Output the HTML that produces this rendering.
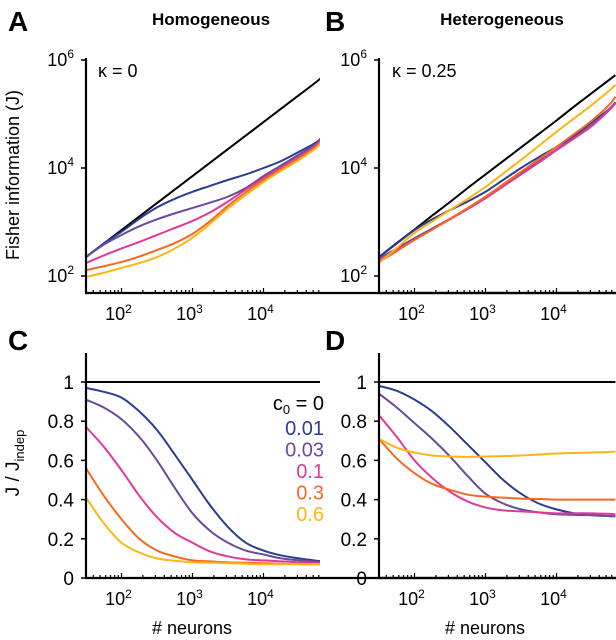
<!DOCTYPE html>
<html><head><meta charset="utf-8"><style>
html,body{margin:0;padding:0;background:#fff}
svg{display:block;font-family:"Liberation Sans",Arial,sans-serif}
</style></head><body>
<svg id="fig" width="616" height="640" viewBox="0 0 616 640">
<defs><clipPath id="clipA"><rect x="86" y="40" width="234" height="260"/></clipPath>
<clipPath id="clipB"><rect x="379" y="40" width="237" height="260"/></clipPath>
<clipPath id="clipC"><rect x="86" y="340" width="234" height="240"/></clipPath>
<clipPath id="clipD"><rect x="379" y="340" width="237" height="240"/></clipPath></defs>
<g id="root"></g>
</svg>
<script>
// data (log10 N on x)
const logN = [1.5, 1.75, 2, 2.25, 2.5, 2.75, 3, 3.25, 3.5, 3.75, 4, 4.25, 4.5, 4.75, 4.83];
const seriesNames = ['c0=0','0.01','0.03','0.1','0.3','0.6'];
const colors = ['#000000','#2b3d91','#6a4a9a','#e0399a','#f26a22','#fbb516'];
// Panel A: log10 J, homogeneous
const A_black = [2.35,2.6,2.85,3.1,3.35,3.6,3.85,4.1,4.35,4.6,4.85,5.1,5.35,5.6,5.69];
const A_blue = [2.35,2.6,2.82,3.06,3.27,3.43,3.56,3.67,3.78,3.88,4.0,4.13,4.3,4.48,4.59];
const A_purple = [2.35,2.58,2.76,2.92,3.05,3.16,3.26,3.36,3.47,3.63,3.85,4.05,4.25,4.46,4.58];
const A_pink = [2.24,2.38,2.51,2.63,2.76,2.89,3.02,3.18,3.38,3.6,3.81,4.01,4.21,4.43,4.56];
const A_orange = [2.11,2.18,2.26,2.36,2.48,2.61,2.78,3.02,3.3,3.55,3.78,3.98,4.18,4.4,4.55];
const A_yellow = [1.98,2.06,2.15,2.24,2.35,2.51,2.71,2.97,3.25,3.5,3.74,3.95,4.15,4.38,4.52];
// Panel B: log10 J, heterogeneous
const B_black = [2.35,2.61,2.86,3.12,3.37,3.63,3.88,4.13,4.38,4.63,4.88,5.14,5.39,5.64,5.72];
const B_blue = [2.35,2.6,2.85,3.05,3.22,3.38,3.56,3.78,4.0,4.2,4.39,4.6,4.85,5.1,5.22];
const B_purple = [2.32,2.51,2.7,2.88,3.06,3.25,3.45,3.67,3.9,4.12,4.34,4.57,4.8,5.1,5.21];
const B_pink = [2.3,2.48,2.67,2.86,3.05,3.24,3.44,3.66,3.88,4.1,4.33,4.55,4.78,5.08,5.2];
const B_orange = [2.26,2.46,2.67,2.86,3.06,3.26,3.47,3.7,3.93,4.16,4.39,4.63,4.88,5.18,5.32];
const B_yellow = [2.24,2.52,2.8,3.01,3.22,3.43,3.65,3.9,4.15,4.41,4.67,4.92,5.17,5.44,5.54];
// Panel C: J/Jindep homogeneous
const C_black = [1,1,1,1,1,1,1,1,1,1,1,1,1,1,1];
const C_blue = [0.97,0.95,0.92,0.85,0.755,0.63,0.5,0.37,0.26,0.18,0.14,0.115,0.1,0.088,0.085];
const C_purple = [0.91,0.87,0.81,0.72,0.6,0.46,0.33,0.24,0.18,0.14,0.12,0.1,0.09,0.083,0.08];
const C_pink = [0.77,0.67,0.55,0.42,0.31,0.23,0.18,0.135,0.11,0.095,0.09,0.085,0.08,0.076,0.075];
const C_orange = [0.56,0.42,0.30,0.2,0.14,0.11,0.09,0.085,0.08,0.078,0.075,0.073,0.07,0.07,0.07];
const C_yellow = [0.41,0.28,0.18,0.13,0.1,0.088,0.08,0.078,0.075,0.073,0.07,0.07,0.07,0.07,0.07];
// Panel D: J/Jindep heterogeneous
const D_black = [1,1,1,1,1,1,1,1,1,1,1,1,1,1,1];
const D_blue = [0.98,0.955,0.91,0.85,0.77,0.68,0.59,0.5,0.43,0.38,0.35,0.33,0.32,0.316,0.315];
const D_purple = [0.94,0.87,0.79,0.71,0.62,0.52,0.43,0.38,0.35,0.335,0.325,0.322,0.32,0.316,0.315];
const D_pink = [0.83,0.72,0.6,0.51,0.44,0.39,0.36,0.345,0.34,0.335,0.33,0.33,0.33,0.327,0.325];
const D_orange = [0.71,0.61,0.535,0.48,0.45,0.425,0.415,0.41,0.405,0.403,0.4,0.4,0.4,0.4,0.4];
const D_yellow = [0.71,0.665,0.64,0.625,0.62,0.618,0.62,0.622,0.625,0.63,0.635,0.638,0.64,0.643,0.645];
const xTickLabels = ['2','3','4'];
const yLogTicks = [2, 4, 6];
const yLinTicks = [0, 0.2, 0.4, 0.6, 0.8, 1];
const yLinLabels = ['0','0.2','0.4','0.6','0.8','1'];
const legendLabels = ['0.01','0.03','0.1','0.3','0.6'];

const NS='http://www.w3.org/2000/svg';
const root=document.getElementById('root');
function mk(tag,attrs,parent){const e=document.createElementNS(NS,tag);for(const k in attrs)e.setAttribute(k,attrs[k]);(parent||root).appendChild(e);return e;}
const X0=1.5, X1=4.83;
function xs(left){return v=>left+(v-X0)*71;}
const yLogTop=v=>276-(v-2)*54;
const yLinBot=v=>578-v*196;
function smooth(pts){let d='M'+pts[0][0]+','+pts[0][1];for(let i=0;i<pts.length-1;i++){const p0=pts[Math.max(0,i-1)],p1=pts[i],p2=pts[i+1],p3=pts[Math.min(pts.length-1,i+2)];const c1=[p1[0]+(p2[0]-p0[0])/6,p1[1]+(p2[1]-p0[1])/6],c2=[p2[0]-(p3[0]-p1[0])/6,p2[1]-(p3[1]-p1[1])/6];d+=' C'+c1.join(',')+' '+c2.join(',')+' '+p2.join(',');}return d;}
function panel(id,left,top,bottom,ysc,series,clip,isLog){
  const g=mk('g',{});  
  const x=xs(left);
  const lg=mk('g',{'clip-path':'url(#'+clip+')'},g);
  for(let s=0;s<series.length;s++){
    const pts=logN.map((v,i)=>[x(v),ysc(series[s][i])]);
    const p=mk('path',{d:smooth(pts),fill:'none',stroke:colors[s],'stroke-width':2},lg);
    
    
  }
  const ax=mk('path',{d:'M'+left+','+top+' V'+bottom+' H616',fill:'none',stroke:'#000','stroke-width':2.2},g);
   
  for(let d=1;d<=4;d++){for(let m=1;m<10;m++){const v=d+Math.log10(m);if(v<X0||v>X1)continue;const xx=x(v);mk('line',{x1:xx,x2:xx,y1:bottom,y2:bottom-(m==1?5:3),stroke:'#000','stroke-width':1.2},g);}}
  xTickLabels.forEach((t,i)=>{const xx=x(+t);const tx=mk('text',{x:xx-3,y:bottom+27,'font-size':18,'text-anchor':'middle'},g);tx.innerHTML='10<tspan dy="-7" font-size="12">'+t+'</tspan>';});
  if(isLog){yLogTicks.forEach(t=>{const yy=ysc(t);mk('line',{x1:left-5,x2:left,y1:yy,y2:yy,stroke:'#000','stroke-width':1.5},g);const tx=mk('text',{x:left-12,y:yy+6,'font-size':18,'text-anchor':'end'},g);tx.innerHTML='10<tspan dy="-8" font-size="12">'+t+'</tspan>';});}
  else{yLinTicks.forEach((t,i)=>{const yy=ysc(t);mk('line',{x1:left-5,x2:left,y1:yy,y2:yy,stroke:'#000','stroke-width':1.5},g);const tx=mk('text',{x:left-12,y:yy+7,'font-size':19,'text-anchor':'end'},g);tx.textContent=yLinLabels[i];});}
}
panel('a',86,58,293,yLogTop,[A_black,A_blue,A_purple,A_pink,A_orange,A_yellow],'clipA',true);
panel('b',379,58,293,yLogTop,[B_black,B_blue,B_purple,B_pink,B_orange,B_yellow],'clipB',true);
panel('c',86,353,578,yLinBot,[C_black,C_blue,C_purple,C_pink,C_orange,C_yellow],'clipC',false);
panel('d',379,353,578,yLinBot,[D_black,D_blue,D_purple,D_pink,D_orange,D_yellow],'clipD',false);
function txt(x,y,s,attrs,name){const t=mk('text',Object.assign({x:x,y:y},attrs));t.innerHTML=s;return t;}
txt(8,31,'A',{'font-size':28,'font-weight':'bold'},'panel-label-a');
txt(325,31,'B',{'font-size':28,'font-weight':'bold'},'panel-label-b');
txt(8,350,'C',{'font-size':28,'font-weight':'bold'},'panel-label-c');
txt(325,350,'D',{'font-size':28,'font-weight':'bold'},'panel-label-d');
txt(211,25,'Homogeneous',{'font-size':17,'font-weight':'bold','text-anchor':'middle'},'title-homogeneous');
txt(502,25,'Heterogeneous',{'font-size':17,'font-weight':'bold','text-anchor':'middle'},'title-heterogeneous');
txt(98,77,'κ = 0',{'font-size':18},'kappa-label-a');
txt(392,77,'κ = 0.25',{'font-size':18},'kappa-label-b');
txt(0,0,'Fisher information (J)',{'font-size':18,'text-anchor':'middle',transform:'translate(19,175) rotate(-90)'},'y-axis-title-top');
txt(0,0,'J / J<tspan dy="5" font-size="13">indep</tspan>',{'font-size':19,'text-anchor':'middle',transform:'translate(19,463) rotate(-90)'},'y-axis-title-bottom');
txt(192,634,'# neurons',{'font-size':18,'text-anchor':'middle'},'x-axis-title-c');
txt(485,634,'# neurons',{'font-size':18,'text-anchor':'middle'},'x-axis-title-d');
txt(324,410,'c<tspan dy="4" font-size="13">0</tspan><tspan dy="-4"> = 0</tspan>',{'font-size':20,'text-anchor':'end'},'legend-c0');
legendLabels.forEach((l,i)=>{txt(324,435+i*21.5,l,{'font-size':20,'text-anchor':'end',fill:colors[i+1]},'legend-entry');});
</script>
</body></html>
